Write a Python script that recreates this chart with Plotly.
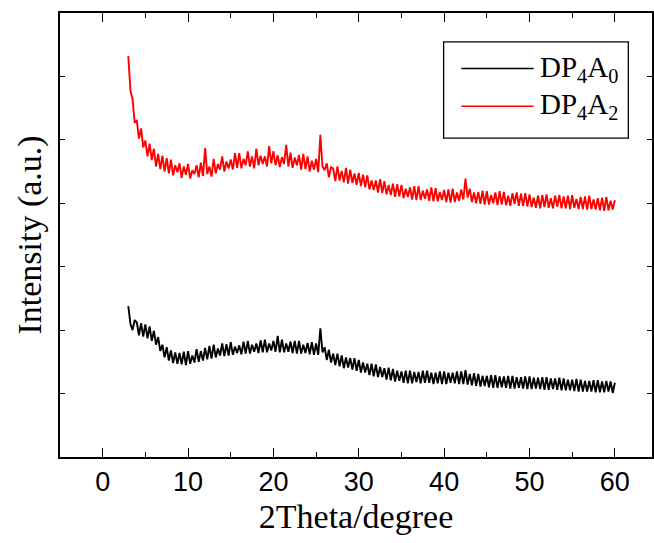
import plotly.graph_objects as go

# 2Theta sampling: start and step (degrees)
theta_start = 3.0
theta_step = 0.25

series_names = ["DP<sub>4</sub>A<sub>0</sub>", "DP<sub>4</sub>A<sub>2</sub>"]
series_colors = ["#000000", "#FF0000"]

# DP4A0 (black) intensity, a.u.
dp4a0 = [
    2.38, 2.10, 2.00, 2.16,  2.12, 1.92, 2.11, 1.90,  2.09, 1.87, 2.06, 1.83,
    1.99, 1.77, 1.89, 1.67,  1.77, 1.57, 1.73, 1.52,  1.68, 1.48, 1.65, 1.47,
    1.64, 1.46, 1.66, 1.45,  1.67, 1.47, 1.60, 1.49,  1.70, 1.50, 1.67, 1.52,
    1.72, 1.54, 1.75, 1.55,  1.77, 1.57, 1.71, 1.60,  1.79, 1.59, 1.78, 1.60,
    1.81, 1.61, 1.74, 1.64,  1.76, 1.62, 1.82, 1.63,  1.83, 1.63, 1.77, 1.66,
    1.79, 1.64, 1.84, 1.65,  1.85, 1.65, 1.79, 1.68,  1.83, 1.66, 1.91, 1.65,
    1.85, 1.65, 1.79, 1.66,  1.82, 1.64, 1.83, 1.63,  1.83, 1.63, 1.77, 1.64,
    1.80, 1.62, 1.81, 1.61,  1.79, 1.61, 2.03, 1.65,  1.73, 1.53, 1.69, 1.49,
    1.63, 1.45, 1.63, 1.43,  1.60, 1.40, 1.57, 1.41,  1.56, 1.38, 1.56, 1.36,
    1.53, 1.33, 1.49, 1.33,  1.47, 1.29, 1.47, 1.27,  1.46, 1.26, 1.42, 1.26,
    1.40, 1.22, 1.41, 1.21,  1.39, 1.19, 1.36, 1.20,  1.35, 1.17, 1.36, 1.16,
    1.36, 1.16, 1.34, 1.18,  1.34, 1.16, 1.36, 1.17,  1.36, 1.17, 1.33, 1.15,
    1.33, 1.16, 1.35, 1.15,  1.35, 1.15, 1.33, 1.17,  1.33, 1.16, 1.35, 1.15,
    1.35, 1.15, 1.37, 1.14,  1.31, 1.13, 1.32, 1.12,  1.31, 1.11, 1.28, 1.12,
    1.28, 1.10, 1.29, 1.09,  1.29, 1.09, 1.27, 1.10,  1.27, 1.09, 1.28, 1.08,
    1.28, 1.08, 1.26, 1.09,  1.26, 1.08, 1.27, 1.07,  1.27, 1.07, 1.25, 1.08,
    1.25, 1.07, 1.26, 1.06,  1.26, 1.06, 1.24, 1.07,  1.24, 1.06, 1.25, 1.05,
    1.24, 1.05, 1.22, 1.05,  1.22, 1.04, 1.23, 1.03,  1.22, 1.03, 1.20, 1.03,
    1.20, 1.03, 1.21, 1.02,  1.21, 1.02, 1.19, 1.02,  1.20, 1.03, 1.19, 1.01,
    1.17,
]

# DP4A2 (red) intensity, a.u.
dp4a2 = [
    6.32, 5.78, 5.64, 5.28,  5.30, 5.02, 5.18, 4.88,  4.99, 4.74, 4.94, 4.68,
    4.86, 4.58, 4.78, 4.54,  4.75, 4.50, 4.71, 4.47,  4.69, 4.44, 4.60, 4.49,
    4.63, 4.40, 4.58, 4.45,  4.62, 4.39, 4.52, 4.46,  4.60, 4.41, 4.64, 4.43,
    4.87, 4.46, 4.58, 4.42,  4.70, 4.47, 4.62, 4.53,  4.74, 4.50, 4.66, 4.55,
    4.69, 4.53, 4.79, 4.56,  4.79, 4.55, 4.70, 4.60,  4.82, 4.58, 4.74, 4.55,
    4.86, 4.60, 4.75, 4.62,  4.74, 4.58, 4.90, 4.63,  4.82, 4.60, 4.76, 4.57,
    4.73, 4.62, 4.92, 4.58,  4.80, 4.56, 4.72, 4.60,  4.76, 4.53, 4.78, 4.54,
    4.74, 4.50, 4.67, 4.53,  4.70, 4.49, 5.08, 4.58,  4.52, 4.63, 4.41, 4.57,
    4.55, 4.35, 4.58, 4.36,  4.51, 4.33, 4.56, 4.31,  4.53, 4.32, 4.47, 4.29,
    4.48, 4.27, 4.45, 4.25,  4.44, 4.22, 4.36, 4.21,  4.36, 4.17, 4.38, 4.16,
    4.35, 4.14, 4.29, 4.13,  4.31, 4.10, 4.30, 4.11,  4.29, 4.08, 4.23, 4.10,
    4.25, 4.06, 4.27, 4.05,  4.27, 4.05, 4.20, 4.07,  4.22, 4.04, 4.25, 4.03,
    4.24, 4.03, 4.18, 4.05,  4.21, 4.02, 4.22, 4.01,  4.23, 4.02, 4.17, 4.04,
    4.22, 4.06, 4.39, 4.09,  4.23, 4.02, 4.17, 4.00,  4.18, 3.99, 4.20, 3.98,
    4.19, 3.98, 4.13, 4.00,  4.17, 3.97, 4.19, 3.98,  4.18, 3.97, 4.12, 3.96,
    4.16, 3.99, 4.17, 3.96,  4.15, 3.96, 4.16, 3.95,  4.14, 3.94, 4.09, 3.93,
    4.12, 3.92, 4.13, 3.94,  4.14, 3.93, 4.08, 3.92,  4.12, 3.95, 4.13, 3.92,
    4.11, 3.92, 4.12, 3.91,  4.13, 3.93, 4.07, 3.91,  4.10, 3.91, 4.11, 3.90,
    4.12, 3.91, 4.06, 3.90,  4.08, 3.89, 4.09, 3.88,  4.10, 3.89, 4.04, 3.90,
    4.05,
]

x_tickvals = [0, 10, 20, 30, 40, 50, 60]
x_ticktext = ["0", "10", "20", "30", "40", "50", "60"]
y_tickvals = [0, 1, 2, 3, 4, 5, 6, 7]

fig = go.Figure()
for name, vals, col in zip(series_names, [dp4a0, dp4a2], series_colors):
    fig.add_trace(go.Scatter(
        y=vals, x0=theta_start, dx=theta_step, mode="lines", name=name,
        line=dict(color=col, width=1.9, simplify=False), showlegend=False,
    ))

serif = "Liberation Serif, Times New Roman, serif"
sans = "Liberation Sans, Arial, sans-serif"

fig.update_layout(
    width=654, height=543,
    margin=dict(l=60, r=0, t=13, b=86),
    paper_bgcolor="white", plot_bgcolor="white",
    xaxis=dict(
        range=[-5, 64.35], tickmode="array", tickvals=x_tickvals, ticktext=x_ticktext,
        ticks="inside", ticklen=9, tickwidth=1.3, tickcolor="black",
        minor=dict(dtick=5, tick0=0, ticks="inside", ticklen=5, tickwidth=1.3, tickcolor="black"),
        showline=True, linecolor="black", linewidth=1.6, mirror="allticks",
        showgrid=False, zeroline=False,
        tickfont=dict(family=sans, size=27, color="black"),
        title=dict(text="2Theta/degree", font=dict(family=serif, size=34, color="black"), standoff=8),
    ),
    yaxis=dict(
        range=[0, 7], tickmode="array", tickvals=y_tickvals, showticklabels=False,
        ticks="inside", ticklen=5, tickwidth=1.3, tickcolor="black",
        showline=True, linecolor="black", linewidth=1.6, mirror="allticks",
        showgrid=False, zeroline=False,
        title=dict(text="Intensity (a.u.)", font=dict(family=serif, size=34, color="black"), standoff=6),
    ),
)

# legend box drawn in paper coordinates
fig.add_shape(type="rect", xref="paper", yref="paper", x0=0.648, x1=0.960, y0=0.718, y1=0.935,
              line=dict(color="black", width=1.3), fillcolor="white", layer="above")
legend_y = [0.875, 0.790]
for name, col, ly in zip(series_names, series_colors, legend_y):
    fig.add_shape(type="line", xref="paper", yref="paper", x0=0.678, x1=0.800, y0=ly, y1=ly,
                  line=dict(color=col, width=1.3), layer="above")
    fig.add_annotation(xref="paper", yref="paper", x=0.807, y=ly, xanchor="left", yanchor="middle",
                       text=name, showarrow=False, font=dict(family=serif, size=29, color="black"))

fig.write_html("out.html")
